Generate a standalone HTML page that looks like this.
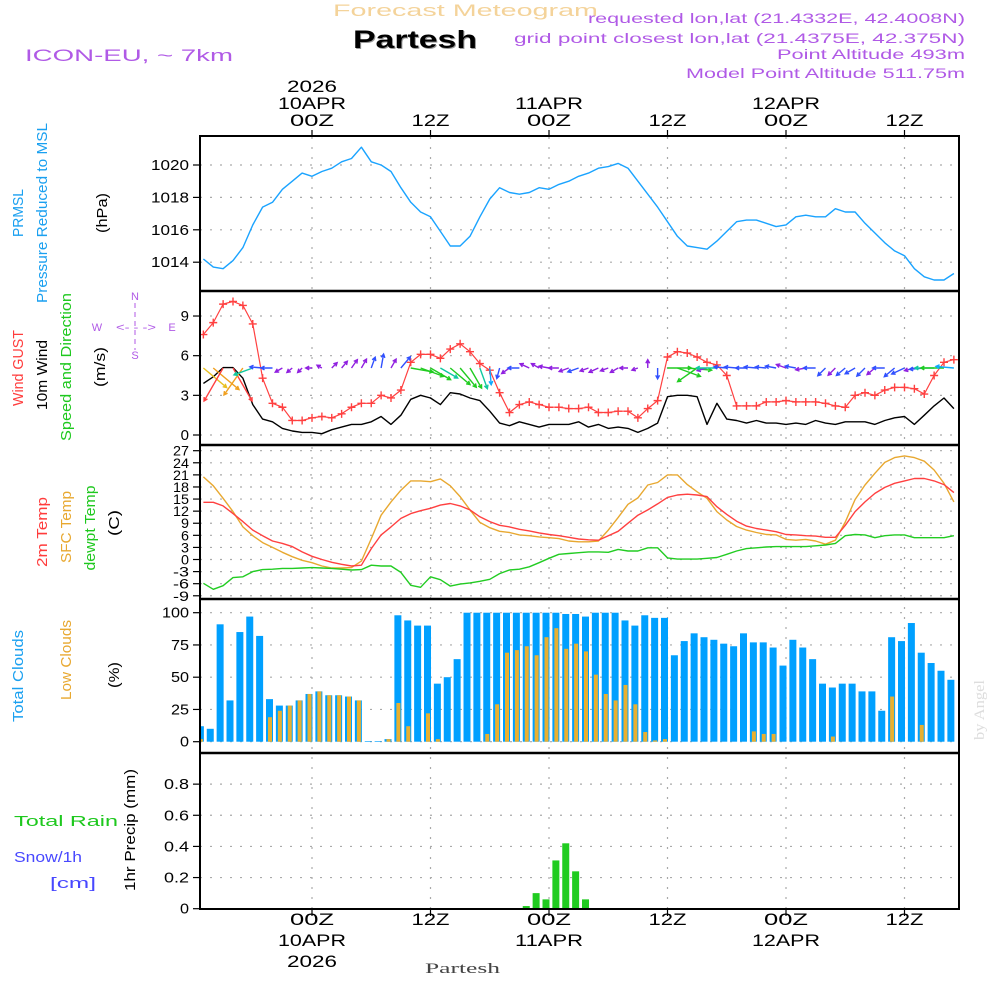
<!DOCTYPE html>
<html><head><meta charset="utf-8"><style>
html,body{margin:0;padding:0;background:#fff;width:1000px;height:1000px;overflow:hidden}
svg{display:block;font-family:"Liberation Sans",sans-serif}
</style></head><body>
<svg id="chart" width="1000" height="1000" viewBox="0 0 1000 1000" xmlns="http://www.w3.org/2000/svg">
<defs><clipPath id="plotclip"><rect x="201" y="137" width="758" height="772"/></clipPath></defs>
<g id="texts"></g>
<g id="grid"></g>
<g id="marks" clip-path="url(#plotclip)"></g>
<g id="frame"></g>
</svg>
<script>
// ---- data (hourly, t = hours since 00Z 10APR, from -11 to 65) ----
const tStart = -11;
const pressure = [1014.2,1013.7,1013.6,1014.1,1014.9,1016.3,1017.4,1017.7,1018.5,1019.0,1019.5,1019.3,1019.6,1019.8,1020.2,1020.4,1021.1,1020.2,1020.0,1019.6,1018.6,1017.7,1017.1,1016.8,1015.9,1015.0,1015.0,1015.6,1016.8,1017.9,1018.6,1018.3,1018.2,1018.3,1018.6,1018.5,1018.8,1019.0,1019.3,1019.5,
1019.8,1019.9,1020.1,1019.8,1019.0,1018.2,1017.4,1016.5,1015.6,1015.0,1014.9,1014.8,1015.3,1015.9,1016.5,1016.6,1016.6,1016.4,1016.2,1016.3,1016.8,1016.9,1016.8,1016.8,1017.3,1017.1,1017.1,1016.4,1015.8,1015.2,1014.7,1014.4,1013.6,1013.1,1012.9,1012.9,1013.3];
const gust = [7.6,8.5,9.9,10.1,9.8,8.4,4.3,2.4,2.1,1.1,1.1,1.3,1.4,1.3,1.6,2.1,2.4,2.4,3.0,2.8,3.4,5.5,6.1,6.1,5.8,6.5,6.9,6.3,5.4,4.9,3.2,1.7,2.3,2.5,2.3,2.1,2.1,2.0,2.0,2.1,
1.7,1.7,1.8,1.8,1.3,2.0,2.6,5.9,6.3,6.2,5.9,5.5,5.3,4.5,2.2,2.2,2.2,2.5,2.5,2.6,2.5,2.5,2.5,2.4,2.2,2.1,3.0,3.2,3.0,3.4,3.6,3.6,3.5,3.1,4.5,5.5,5.7];
const wind10 = [3.9,4.4,5.1,5.1,4.3,2.3,1.2,1.0,0.5,0.3,0.2,0.2,0.1,0.4,0.6,0.8,0.8,1.0,1.4,0.8,1.5,2.7,3.0,2.8,2.3,3.2,3.1,2.8,2.6,1.8,0.9,0.7,1.0,0.8,0.6,0.8,0.8,0.8,1.0,0.6,
0.8,0.5,0.6,0.5,0.2,0.5,0.9,2.9,3.0,3.0,2.9,0.8,2.4,1.2,1.1,0.9,1.1,0.9,0.9,0.8,0.9,0.8,1.1,0.9,0.8,1.0,1.0,1.0,0.8,1.1,1.3,1.4,0.8,1.5,2.2,2.8,2.0];
const windDir = [130,130,210,150,215,250,275,270,240,230,225,270,300,45,40,35,30,20,10,30,40,100,110,120,120,130,140,150,160,175,195,235,270,295,300,280,270,250,250,250,
245,250,240,270,250,0,180,90,110,95,235,255,270,275,275,270,275,275,280,290,280,260,270,225,225,230,240,225,230,270,230,245,255,265,270,270,275];
const temp2m = [14.2,14.2,13.3,11.4,9.4,7.3,5.9,4.6,4.0,3.2,1.9,0.8,0.0,-0.7,-1.2,-1.6,-1.4,2.7,6.1,8.1,10.2,11.4,12.1,12.7,13.5,13.9,13.3,12.3,10.6,9.4,8.5,8.1,7.5,7.1,6.6,6.2,5.9,5.5,5.1,4.9,
4.8,5.9,7.0,9.0,11.0,12.3,13.8,15.4,16.0,16.2,16.0,15.6,13.1,11.2,9.5,8.3,7.7,7.3,6.9,6.2,6.1,5.9,5.8,5.5,5.5,8.5,11.9,14.3,16.4,17.9,18.9,19.5,20.1,20.1,19.5,18.6,16.6];
const tempSfc = [20.5,18.3,15.2,11.9,8.1,5.9,4.2,3.0,1.8,0.7,-0.2,-0.8,-1.6,-2.1,-2.1,-2.0,-0.4,5.2,11.0,14.3,17.2,19.5,19.5,19.3,20.0,18.3,15.6,12.3,9.2,7.9,7.0,6.7,6.1,5.9,5.6,5.4,5.2,4.6,4.4,4.4,
4.6,7.3,10.4,13.7,15.3,18.5,19.1,21.0,21.0,18.6,16.8,15.2,11.9,9.8,8.2,7.3,6.7,6.2,6.1,5.0,4.8,5.0,4.6,3.8,4.8,9.3,14.9,18.5,21.4,24.1,25.3,25.7,25.3,24.4,22.2,18.9,14.3];
const dewpt = [-5.9,-7.4,-6.5,-4.5,-4.3,-3.0,-2.5,-2.4,-2.2,-2.2,-2.1,-2.0,-2.1,-2.2,-2.4,-2.6,-2.5,-1.4,-1.6,-1.6,-3.2,-6.4,-6.9,-4.3,-5.0,-6.6,-6.1,-5.8,-5.4,-4.9,-3.5,-2.6,-2.4,-1.8,-0.8,0.3,1.3,1.5,1.7,1.9,
1.9,1.8,2.5,2.1,2.1,2.9,2.9,0.4,0.1,0.1,0.1,0.3,0.5,1.3,2.1,2.7,2.9,3.1,3.2,3.2,3.2,3.2,3.4,3.6,4.0,5.9,6.2,6.1,5.4,5.9,6.1,6.1,5.4,5.4,5.4,5.4,5.9];
const totalClouds = [12,10,91,32,85,97,82,33,28,28,32,37,39,36,36,35,32,0.5,0.5,2,98,94,90,90,45,50,64,100,100,100,100,100,100,100,100,100,100,99,99,97,
100,100,100,94,90,98,96,96,67,78,84,81,79,76,74,84,77,77,73,59,79,73,64,45,42,45,45,39,39,24,81,78,92,69,61,55,48];
const lowClouds = [2,0,0,0,0,0,0,19,24,28,32,37,39,36,36,35,32,0,0,2,30,12,0,22,2,0,0,0,0,6,29,69,71,74,67,81,88,72,76,70,
52,37,32,44,29,7.5,1,2,0,0,0,0,0,0,0,0,8,6,6,0,0,0,0,0,4,0,0,0,0,0,35,0,0,13,0,0,0];
const precip = [0,0,0,0,0,0,0,0,0,0,0,0,0,0,0,0,0,0,0,0,0,0,0,0,0,0,0,0,0,0,0,0,0,0.017,0.1,0.06,0.31,0.42,0.24,0.06,
0,0,0,0,0,0,0,0,0,0,0,0,0,0,0,0,0,0,0,0,0,0,0,0,0,0,0,0,0,0,0,0,0,0,0,0,0];
const pressureTicks = [1014,1016,1018,1020];
const windTicks = [0,3,6,9];
const tempTicks = [-9,-6,-3,0,3,6,9,12,15,18,21,24,27];
const cloudTicks = [0,25,50,75,100];
const precipTicks = [0,0.2,0.4,0.6,0.8];
const timeTicks = [0,12,24,36,48,60];
const topTimeLabels = [["2026","10APR","00Z"],["","","12Z"],["","11APR","00Z"],["","","12Z"],["","12APR","00Z"],["","","12Z"]];
const botTimeLabels = [["00Z","10APR","2026"],["12Z","",""],["00Z","11APR",""],["12Z","",""],["00Z","12APR",""],["12Z","",""]];

// ---- scales ----
const X0=200, X1=959;
const xT = t => 312 + t*9.875;
const yP = v => 165 + (1020-v)*16.2;
const yW = v => 435 - v*13.22;
const yT = v => 450.7 + (27-v)*4.03;
const yC = v => 741.7 - v*1.29;
const yR = v => 908.7 - v*155.7;

const NS="http://www.w3.org/2000/svg";
function mk(tag, attrs, parent, txt){
  const e=document.createElementNS(NS,tag);
  for(const k in attrs) e.setAttribute(k,attrs[k]);
  if(txt!==undefined) e.textContent=txt;
  parent.appendChild(e); return e;
}
const G=document.getElementById('grid'), M=document.getElementById('marks'), F=document.getElementById('frame'), T=document.getElementById('texts');

function txt(s,x,y,opt,name){
  const a={x:x,y:y,'font-size':opt.size||15,fill:opt.fill||'#000'};
  if(opt.anchor) a['text-anchor']=opt.anchor;
  if(opt.len){a.textLength=opt.len;a.lengthAdjust='spacingAndGlyphs';}
  if(opt.weight) a['font-weight']=opt.weight;
  if(opt.family) a['font-family']=opt.family;
  if(opt.rot) a.transform='rotate(-90 '+x+' '+y+')';
  const e=mk('text',a,T,s);
  
  
  return e;
}
const purple='#b05ae6';
txt('Forecast Meteogram',333,16,{size:17,fill:'#f4d39a',len:265},'chart-supertitle');
txt('Partesh',354,49,{size:25,fill:'#999',weight:'bold',len:124},'location-title-shadow');
txt('Partesh',353,48,{size:25,weight:'bold',len:124},'location-title');
txt('requested lon,lat (21.4332E, 42.4008N)',588,23,{size:14,fill:purple,len:377},'requested-coordinates');
txt('grid point closest lon,lat (21.4375E, 42.375N)',514,43,{size:14,fill:purple,len:451},'grid-point-coordinates');
txt('Point Altitude 493m',777,59,{size:14,fill:purple,len:188},'point-altitude');
txt('Model Point Altitude 511.75m',686,78,{size:14,fill:purple,len:279},'model-point-altitude');
txt('ICON-EU, ~ 7km',25,61,{size:17,fill:purple,len:208},'model-name');
txt('Partesh',425,973,{size:15,fill:'#444',family:'"Liberation Serif",serif',len:75},'bottom-location-label');
txt('by Angel',984,740,{size:15,fill:'#ddd',family:'"Liberation Serif",serif',rot:true,len:60},'watermark');

const lenOf={"2026":50,"10APR":68,"11APR":68,"12APR":68,"00Z":44,"12Z":38};
timeTicks.forEach((t,i)=>{
  const x=xT(t);
  topTimeLabels[i].forEach((s,j)=>{ if(s) txt(s,x,92+j*17,{size:17,anchor:'middle',len:lenOf[s]},'top-time-label'); });
  botTimeLabels[i].forEach((s,j)=>{ if(s) txt(s,x,925+j*21,{size:17,anchor:'middle',len:lenOf[s]},'bottom-time-label'); });
});

const blue='#1aa0f0', red='#ff3c3c', green='#1ec81e', orange='#e8a830';
txt('PRMSL',23,213,{size:15,fill:blue,anchor:'middle',rot:true,len:48},'prmsl-title');
txt('Pressure Reduced to MSL',47,213,{size:15,fill:blue,anchor:'middle',rot:true,len:180},'pressure-axis-title');
txt('(hPa)',107,213,{size:15,anchor:'middle',rot:true,len:40},'pressure-unit');
txt('Wind GUST',23,368,{size:15,fill:red,anchor:'middle',rot:true,len:76},'gust-title');
txt('10m Wind',47,375,{size:15,anchor:'middle',rot:true,len:70},'wind-title');
txt('Speed and Direction',71,367,{size:15,fill:green,anchor:'middle',rot:true,len:148},'wind-direction-title');
txt('(m/s)',105,367,{size:15,anchor:'middle',rot:true,len:40},'wind-unit');
txt('2m Temp',47,532,{size:15,fill:red,anchor:'middle',rot:true,len:70},'temp2m-title');
txt('SFC Temp',71,527,{size:15,fill:orange,anchor:'middle',rot:true,len:72},'sfc-temp-title');
txt('dewpt Temp',95,528,{size:15,fill:green,anchor:'middle',rot:true,len:85},'dewpt-title');
txt('(C)',119,523,{size:15,anchor:'middle',rot:true,len:26},'temp-unit');
txt('Total Clouds',23,676,{size:15,fill:blue,anchor:'middle',rot:true,len:92},'total-clouds-title');
txt('Low Clouds',71,660,{size:15,fill:orange,anchor:'middle',rot:true,len:80},'low-clouds-title');
txt('(%)',119,675,{size:15,anchor:'middle',rot:true,len:26},'cloud-unit');
txt('Total  Rain',14,826,{size:15,fill:green,len:104},'rain-label');
txt('Snow/1h',14,862,{size:15,fill:'#4848ff',len:68},'snow-label');
txt('[cm]',50,888,{size:15,fill:'#4848ff',len:46},'snow-unit');
txt('1hr Precip (mm)',135,830,{size:15,anchor:'middle',rot:true,len:122},'precip-axis-title');
const cp='#b05ae6';
txt('N',135,300,{size:11,fill:cp,anchor:'middle'},'compass-n');
txt('S',135,359,{size:11,fill:cp,anchor:'middle'},'compass-s');
txt('W',97,331,{size:11,fill:cp,anchor:'middle'},'compass-w');
txt('E',172,331,{size:11,fill:cp,anchor:'middle'},'compass-e');
txt('<- - ->',136,331,{size:11,fill:cp,anchor:'middle',len:40},'compass-ew-arrow');
mk('line',{x1:135,y1:303,x2:135,y2:350,stroke:cp,'stroke-width':1,'stroke-dasharray':'5 4'},T);

function ticks(arr,sc,fmt,name,size,len){
  arr.forEach(v=>{
    const y=sc(v);
    txt(fmt(v),189,y+5,{size:size||15,anchor:'end',len:len?len(v):undefined},name);
    mk('line',{x1:193,y1:y,x2:200,y2:y,stroke:'#000','stroke-width':1.2},F);
    mk('line',{x1:X0,y1:y,x2:X1,y2:y,stroke:'#aaa','stroke-width':1.2,'stroke-dasharray':'2 8'},G);
  });
}
ticks(pressureTicks,yP,v=>String(v),'pressure-tick-label',15,()=>38);
ticks(windTicks,yW,v=>String(v),'wind-tick-label',15);
ticks(tempTicks,yT,v=>String(v),'temp-tick-label',14,v=>String(v).length*8);
ticks(cloudTicks,yC,v=>String(v),'cloud-tick-label',15,v=>String(v).length*9);
ticks(precipTicks,yR,v=>v===0?'0':v.toFixed(1),'precip-tick-label',15,v=>v===0?9:25);

timeTicks.forEach(t=>{
  const x=xT(t);
  mk('line',{x1:x,y1:137,x2:x,y2:908,stroke:'#aaa','stroke-width':1.2,'stroke-dasharray':'2 8'},G);
  mk('line',{x1:x,y1:130,x2:x,y2:137,stroke:'#000','stroke-width':1.2},F);
  mk('line',{x1:x,y1:908,x2:x,y2:916,stroke:'#000','stroke-width':1.2},F);
});

const panelYs=[136,291,445,599,753,909];
mk('rect',{x:X0,y:136,width:X1-X0,height:773,fill:'none',stroke:'#000','stroke-width':2},F);
panelYs.slice(1,5).forEach(y=>{ const l=mk('line',{x1:X0,y1:y,x2:X1,y2:y,stroke:'#000','stroke-width':2.5},F);
   });

function line(arr,sc,color,name,w){
  const pts=arr.map((v,i)=>xT(tStart+i).toFixed(1)+','+sc(v).toFixed(1)).join(' ');
  const p=mk('polyline',{points:pts,fill:'none',stroke:color,'stroke-width':w||1.4,'stroke-linejoin':'round'},M);
  
  
}
totalClouds.forEach((v,i)=>{
  const x=xT(tStart+i);
  const r=mk('rect',{x:x-6.5,y:yC(v),width:7,height:yC(0)-yC(v),fill:'#00a0ff'},M);
  
  
});
lowClouds.forEach((v,i)=>{
  if(v<=0) return;
  const x=xT(tStart+i);
  const r=mk('rect',{x:x-4.5,y:yC(v),width:4,height:yC(0)-yC(v),fill:'#e8b030'},M);
  
  
});
precip.forEach((v,i)=>{
  if(v<=0) return;
  const x=xT(tStart+i);
  const r=mk('rect',{x:x-6.5,y:yR(v),width:7,height:yR(0)-yR(v),fill:'#20cc20'},M);
  
  
});
line(pressure,yP,'#1aa3ff','pressure-line');
line(tempSfc,yT,'#e8a830','sfc-temp-line');
line(temp2m,yT,'#ff4040','temp2m-line');
line(dewpt,yT,'#22cc22','dewpt-line');
line(wind10,yW,'#000','wind10-line');
line(gust,yW,'#ff4040','gust-line',1.2);
gust.forEach((v,i)=>{
  const x=xT(tStart+i), y=yW(v);
  const p=mk('path',{d:`M${x-4},${y}H${x+4}M${x},${y-4}V${y+4}`,stroke:'#ff4040','stroke-width':1.4},M);
  
  
});
function windColor(s){
  if(s<0.9) return '#9020e0';
  if(s<1.6) return '#3050ff';
  if(s<2.2) return '#10a8ff';
  if(s<2.7) return '#10c8a0';
  if(s<3.4) return '#20cc20';
  if(s<4.0) return '#e8c020';
  if(s<4.8) return '#f0a020';
  return '#ff4040';
}
wind10.forEach((s,i)=>{
  const x=xT(tStart+i), y=368;
  const L=5+6.5*s, a=windDir[i]*Math.PI/180;
  const tx=x+L*Math.sin(a), ty=y-L*Math.cos(a);
  const h=4, b1=a+Math.PI-0.5, b2=a+Math.PI+0.5;
  const c=windColor(s);
  const d=`M${x},${y}L${tx},${ty}M${tx+h*Math.sin(b1)},${ty-h*Math.cos(b1)}L${tx},${ty}L${tx+h*Math.sin(b2)},${ty-h*Math.cos(b2)}`;
  const p=mk('path',{d:d,stroke:c,'stroke-width':1.4,fill:'none'},M);
  
  
});
</script>
</body></html>
